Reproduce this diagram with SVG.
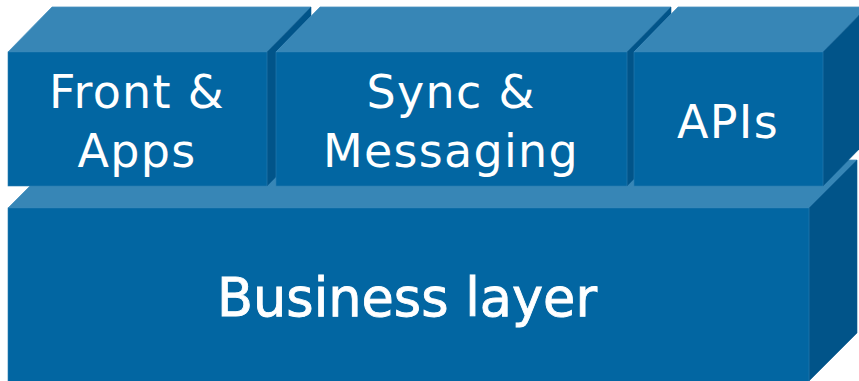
<svg xmlns="http://www.w3.org/2000/svg" width="859" height="381" viewBox="0 0 859 381">
<style>
.top{fill:#3786b6;stroke:#4a92c0;stroke-width:0.8}
.front{fill:#0266a2;stroke:#2a7db3;stroke-width:0.6}
.side{fill:#015489;stroke:#0a5d92;stroke-width:0.6}
.lbl{font-family:"DejaVu Sans","Liberation Sans",sans-serif;fill:#ffffff;text-anchor:middle}
.small{font-size:46px;letter-spacing:1.3px}
.big{font-size:54px;stroke:#ffffff;stroke-width:0.9}
</style>
<rect width="859" height="381" fill="#ffffff"/>
<g id="business">
<polygon class="top" points="8,208 56,160 857,160 809,208"/>
<polygon class="side" points="809,208 857,160 857,333 809,381"/>
<rect class="front" x="8" y="208" width="801" height="175"/>
<text class="lbl big" x="407" y="316" textLength="380" lengthAdjust="spacingAndGlyphs">Business layer</text>
</g>
<g id="front-apps">
<polygon class="top" points="8,52 52,7 311,7 267,52"/>
<polygon class="side" points="267,52 311,7 311,141 267,186"/>
<rect class="front" x="8" y="52" width="259" height="134"/>
<text class="lbl small" x="137" y="108">Front &amp;</text>
<text class="lbl small" x="137" y="167">Apps</text>
</g>
<g id="sync-messaging">
<polygon class="top" points="276,52 320,7 671,7 627,52"/>
<polygon class="side" points="627,52 671,7 671,141 627,186"/>
<rect class="front" x="276" y="52" width="351" height="134"/>
<text class="lbl small" x="451" y="108">Sync &amp;</text>
<text class="lbl small" x="451" y="167">Messaging</text>
</g>
<g id="apis">
<polygon class="top" points="634,52 678,7 867,7 823,52"/>
<polygon class="side" points="823,52 867,7 867,141 823,186"/>
<rect class="front" x="634" y="52" width="189" height="134"/>
<text class="lbl small" x="728" y="138">APIs</text>
</g>
<g id="connectors"></g>
</svg>
